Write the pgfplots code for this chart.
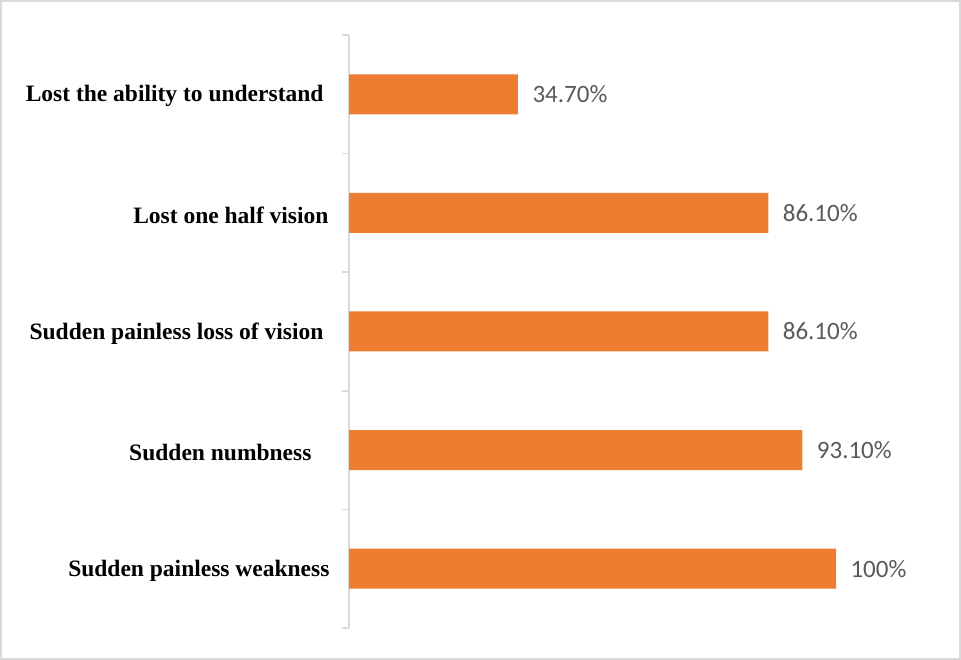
\documentclass[border=0pt]{standalone}
\usepackage{pgfplots}
\pgfplotsset{compat=1.18}
\usepackage{pgfplotstable}
\usepackage{fontspec}
\setmainfont{Liberation Serif}
\newfontfamily\labelfont{Carlito}
\definecolor{barorange}{HTML}{ED7D31}
\definecolor{axisgray}{HTML}{D9D9D9}
\definecolor{valgray}{HTML}{595959}

\pgfplotstableread[col sep=comma]{
pos,val,lab
0,100,100\%
1,93.1,93.10\%
2,86.1,86.10\%
3,86.1,86.10\%
4,34.7,34.70\%
}\symptoms

\begin{document}
\begin{tikzpicture}
% outer frame
\draw[axisgray, line width=2bp] (1bp,1bp) rectangle (960bp,659bp);
\begin{axis}[
  at={(349bp,32bp)}, anchor=south west,
  scale only axis,
  width=487bp, height=593bp,
  xmin=0, xmax=100,
  ymin=-0.5, ymax=4.5,
  axis x line=none,
  axis y line*=left,
  y axis line style={axisgray, line width=1.5bp, -},
  ytick={0,1,2,3,4},
  yticklabels={Sudden painless weakness,
               Sudden numbness\kern18bp,
               Sudden painless loss of vision\kern6bp,
               Lost one half vision\kern1bp,
               Lost the ability to understand\kern6bp},
  major tick length=0pt,
  yticklabel style={font=\fontsize{23.5bp}{26bp}\selectfont\bfseries, text=black, anchor=east, xshift=-16bp, yshift=-2bp},
  extra y ticks={-0.5,0.5,1.5,2.5,3.5,4.5},
  extra y tick labels={},
  extra y tick style={major tick length=7bp, tick align=outside, tick style={axisgray, line width=1.5bp}},
  clip=false,
]
\addplot[xbar, bar width=40bp, fill=barorange, draw=none,
  point meta=explicit symbolic,
  nodes near coords,
  nodes near coords style={anchor=west, xshift=11bp, font=\labelfont\fontsize{25bp}{28bp}\selectfont, text=valgray},
] table[x=val, y=pos, meta=lab] {\symptoms};
\end{axis}
\end{tikzpicture}
\end{document}
